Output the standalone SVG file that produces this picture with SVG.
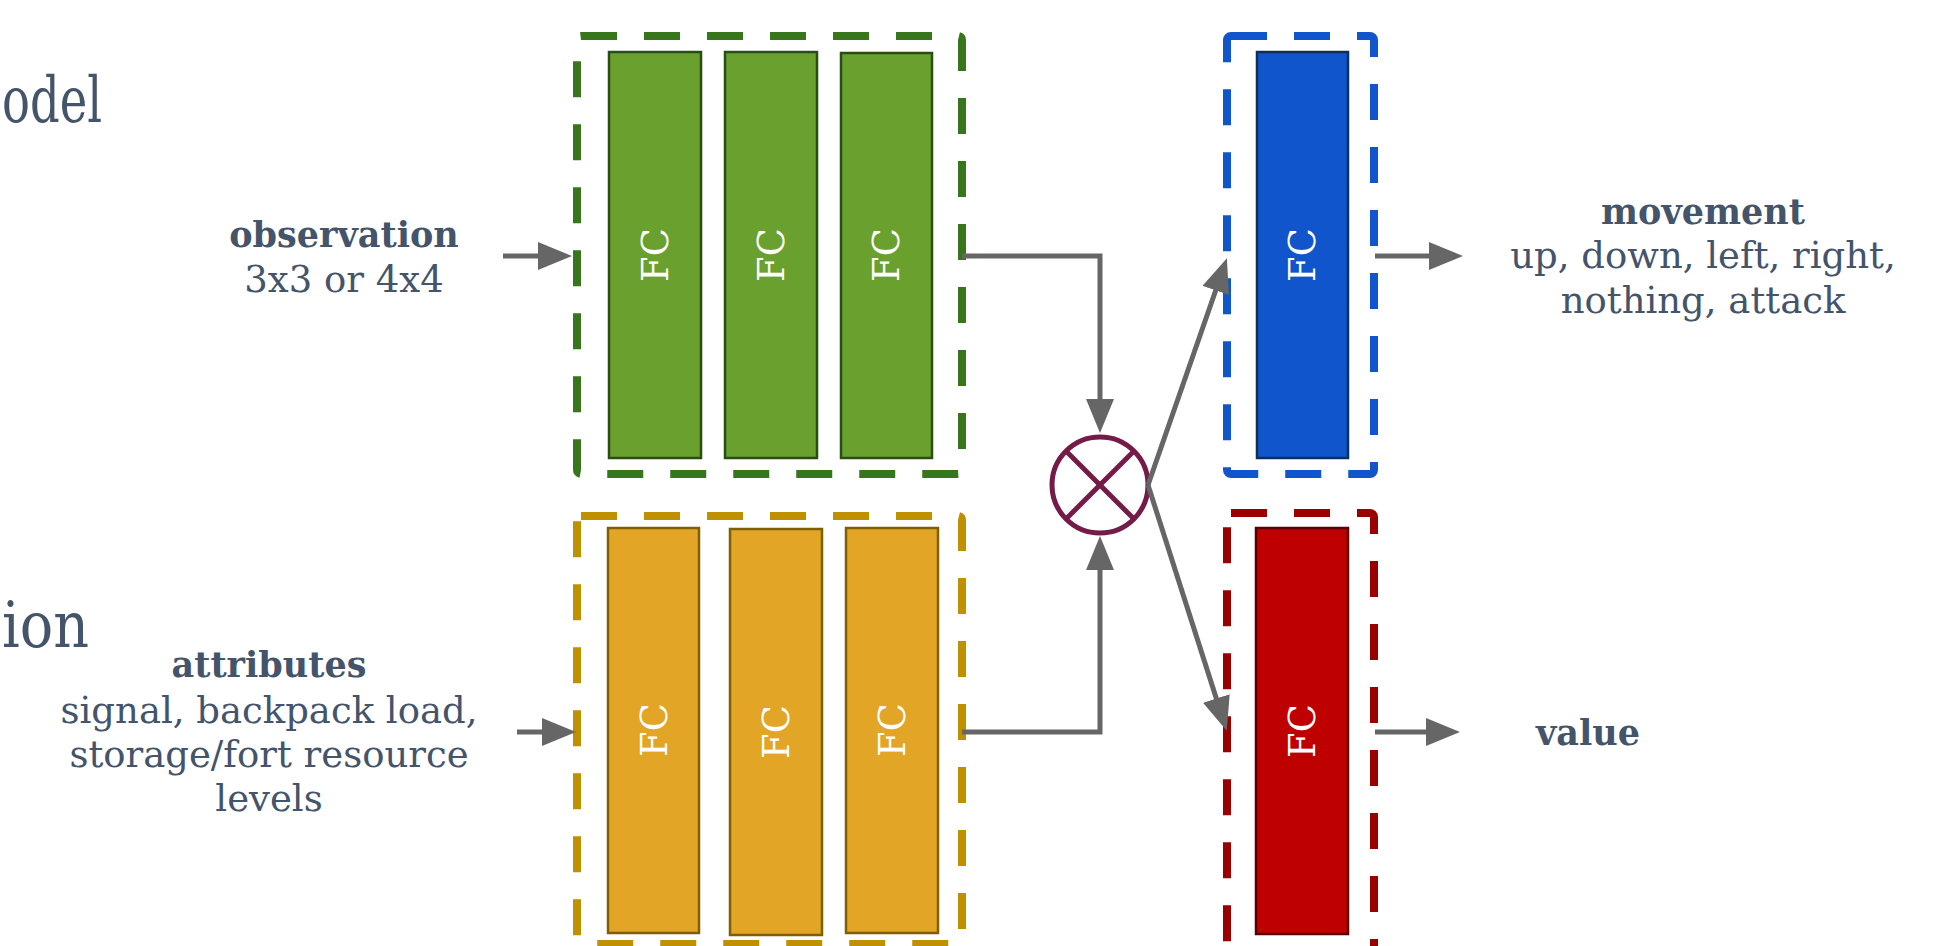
<svg xmlns="http://www.w3.org/2000/svg" width="1939" height="946" viewBox="0 0 1939 946">
  <style>
    .t { font-family: "DejaVu Serif", "Liberation Serif", serif; fill: #44546a; }
    .lbl { font-size: 37px; text-anchor: middle; }
    .b { font-weight: bold; font-size: 35px; text-anchor: middle; }
    .big { font-size: 64px; }
    .fc { font-family: "DejaVu Serif", "Liberation Serif", serif; font-size: 37px; fill: #ffffff; text-anchor: middle; dominant-baseline: central; }
    .dash { fill: none; stroke-width: 8; stroke-dasharray: 36 27; }
    .conn { fill: none; stroke: #666666; stroke-width: 5; marker-end: url(#ah); }
  </style>
  <defs>
    <marker id="ah" markerUnits="userSpaceOnUse" markerWidth="36" markerHeight="30" refX="10" refY="14" orient="auto">
      <path d="M0,0 L34,14 L0,28 Z" fill="#666666"/>
    </marker>
  </defs>
  <rect width="1939" height="946" fill="#ffffff"/>

  <g id="titles">
    <text class="t big" x="2" y="122" textLength="100" lengthAdjust="spacingAndGlyphs">odel</text>
    <text class="t big" x="2" y="647" textLength="87" lengthAdjust="spacingAndGlyphs">ion</text>
  </g>

  <g id="observation-label">
    <text class="t b" x="344" y="247">observation</text>
    <text class="t lbl" x="344" y="292">3x3 or 4x4</text>
  </g>

  <g id="attributes-label">
    <text class="t b" x="269" y="677">attributes</text>
    <text class="t lbl" x="269" y="723">signal, backpack load,</text>
    <text class="t lbl" x="269" y="767">storage/fort resource</text>
    <text class="t lbl" x="269" y="811">levels</text>
  </g>

  <g id="observation-net">
    <rect class="dash" x="577" y="36" width="385" height="438" rx="4" stroke="#38761d"/>
    <g fill="#6aa12e" stroke="#274e13" stroke-width="2.5">
      <rect x="609" y="52" width="92" height="406"/>
      <rect x="725" y="52" width="92" height="406"/>
      <rect x="841" y="53" width="91" height="405"/>
    </g>
    <text class="fc" transform="translate(655,255) rotate(-90)">FC</text>
    <text class="fc" transform="translate(771,255) rotate(-90)">FC</text>
    <text class="fc" transform="translate(886,255) rotate(-90)">FC</text>
  </g>

  <g id="attributes-net">
    <rect class="dash" x="577" y="516" width="385" height="428" rx="4" stroke="#bf9000"/>
    <g fill="#e2a526" stroke="#7f6000" stroke-width="2.5">
      <rect x="608" y="528" width="91" height="405"/>
      <rect x="730" y="529" width="92" height="406"/>
      <rect x="846" y="528" width="92" height="405"/>
    </g>
    <text class="fc" transform="translate(654,730) rotate(-90)">FC</text>
    <text class="fc" transform="translate(776,732) rotate(-90)">FC</text>
    <text class="fc" transform="translate(892,730) rotate(-90)">FC</text>
  </g>

  <g id="combine">
    <circle cx="1100" cy="485" r="48" fill="#ffffff" stroke="#741b47" stroke-width="5"/>
    <line x1="1066" y1="451" x2="1134" y2="519" stroke="#741b47" stroke-width="5"/>
    <line x1="1134" y1="451" x2="1066" y2="519" stroke="#741b47" stroke-width="5"/>
  </g>

  <g id="policy-head">
    <rect class="dash" x="1227" y="36" width="147" height="438" rx="4" stroke="#1155cc"/>
    <rect x="1257" y="52" width="91" height="406" fill="#1155cc" stroke="#0b305e" stroke-width="2.5"/>
    <text class="fc" transform="translate(1302,255) rotate(-90)">FC</text>
  </g>

  <g id="value-head">
    <rect class="dash" x="1227" y="513" width="147" height="450" rx="4" stroke="#990000"/>
    <rect x="1256" y="528" width="92" height="406" fill="#bf0000" stroke="#5a0000" stroke-width="2.5"/>
    <text class="fc" transform="translate(1302,731) rotate(-90)">FC</text>
  </g>

  <g id="movement-label">
    <text class="t b" x="1703" y="224">movement</text>
    <text class="t lbl" x="1703" y="268">up, down, left, right,</text>
    <text class="t lbl" x="1703" y="313">nothing, attack</text>
  </g>

  <g id="value-label">
    <text class="t b" x="1588" y="745">value</text>
  </g>

  <g id="connectors">
    <path class="conn" d="M503,256 L548,256"/>
    <path class="conn" d="M517,732 L552,732"/>
    <path class="conn" d="M962,256 L1100,256 L1100,409"/>
    <path class="conn" d="M962,732 L1100,732 L1100,560"/>
    <path class="conn" d="M1148,485 L1219,281"/>
    <path class="conn" d="M1148,485 L1219.4,708"/>
    <path class="conn" d="M1375,256 L1439,256"/>
    <path class="conn" d="M1375,732 L1436,732"/>
  </g>
</svg>
